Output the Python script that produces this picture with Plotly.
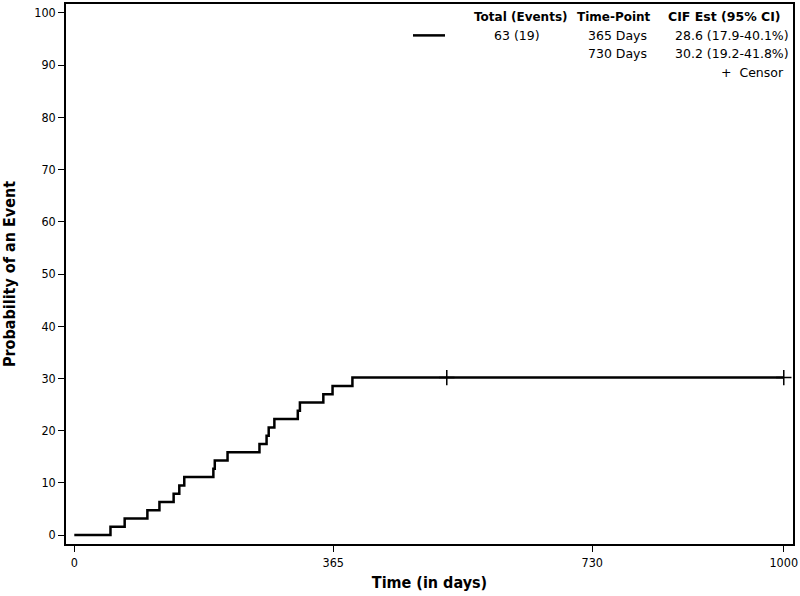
import plotly.graph_objects as go

# event times (days); each event adds 1/63 to the CIF
event_days = [0, 51, 71, 103, 120, 140, 148, 155, 196, 198, 216,
              261, 271, 274, 282, 315, 318, 351, 364, 392, 1000]
cif_pct = [0, 1.59, 3.17, 4.76, 6.35, 7.94, 9.52, 11.11, 12.70, 14.29, 15.87,
           17.46, 19.05, 20.63, 22.22, 23.81, 25.40, 26.98, 28.57, 30.16, 30.16]

censor_days = [525, 1000]
censor_pct = [30.16, 30.16]

x_ticks = [0, 365, 730, 1000]
y_ticks = [0, 10, 20, 30, 40, 50, 60, 70, 80, 90, 100]

# legend table
header = ["Total (Events)", "Time-Point", "CIF Est (95% CI)"]
total_events = "63 (19)"
time_points = ["365 Days", "730 Days"]
cif_ests = ["28.6 (17.9-40.1%)", "30.2 (19.2-41.8%)"]

FONT = "DejaVu Sans"
COND = "DejaVu Sans Condensed, DejaVu Sans"

fig = go.Figure()

fig.add_trace(go.Scatter(
    x=event_days, y=cif_pct, mode="lines", line_shape="hv",
    line=dict(color="black", width=2.5), showlegend=False, hoverinfo="skip",
))
fig.add_trace(go.Scatter(
    x=censor_days, y=censor_pct, mode="markers",
    marker=dict(symbol="cross-thin", size=11, line=dict(color="black", width=1.5)),
    showlegend=False, hoverinfo="skip",
))

axis_common = dict(
    showgrid=False, zeroline=False, showline=True, linecolor="black", linewidth=1.5,
    mirror=True, ticks="outside", ticklen=6, tickwidth=1, tickcolor="black",
    tickfont=dict(family=COND, size=12.5, color="black"),
)

fig.update_layout(
    width=800, height=596,
    plot_bgcolor="white", paper_bgcolor="white",
    margin=dict(l=66, r=7, t=2, b=52),
    xaxis=dict(range=[-11.7, 1013], tickvals=x_ticks,
               title=dict(text="<b>Time (in days)</b>", font=dict(family=COND, size=16, color="black"), standoff=8),
               **axis_common),
    yaxis=dict(range=[-1.7, 101.7], tickvals=y_ticks,
               title=dict(text="<b>Probability of an Event</b>", font=dict(family=COND, size=16, color="black"), standoff=16),
               **axis_common),
)

# legend drawn as a small table (pixel positions mapped to paper coords)
def px_x(p):
    return (p - 66) / 727

def px_y(p):
    return (544 - p) / 542

row_y = [15, 33.5, 52, 70.5]

def note(text, x, y, anchor, size=12.5):
    fig.add_annotation(text=text, x=px_x(x), y=px_y(y), xref="paper", yref="paper",
                       xanchor=anchor, yanchor="middle", showarrow=False,
                       font=dict(family=FONT, size=size, color="black"))

note("<b>" + header[0] + "</b>", 521, row_y[0], "center", 12)
note("<b>" + header[1] + "</b>", 614, row_y[0], "center", 12)
note("<b>" + header[2] + "</b>", 724, row_y[0], "center", 12.5)
note(total_events, 517, row_y[1], "center")
for i in range(2):
    note(time_points[i], 649, row_y[1 + i], "right")
    note(cif_ests[i], 791, row_y[1 + i], "right")
note("+  Censor", 786, row_y[3], "right")

fig.add_shape(type="line", xref="paper", yref="paper",
              x0=px_x(413), x1=px_x(445), y0=px_y(33.5), y1=px_y(33.5),
              line=dict(color="black", width=2.5))

fig.write_html("out.html", config={"displayModeBar": False},
               post_script="document.body.style.margin='0';")
